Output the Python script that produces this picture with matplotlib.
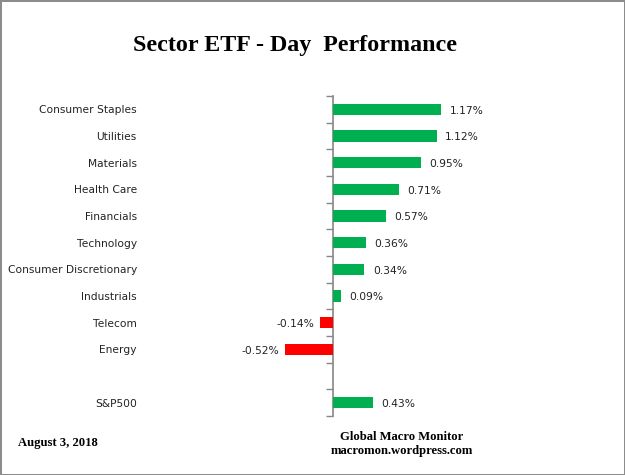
import numpy as np
import matplotlib
matplotlib.use("Agg")
import matplotlib.pyplot as plt

sectors = ["Consumer Staples", "Utilities", "Materials", "Health Care",
           "Financials", "Technology", "Consumer Discretionary", "Industrials",
           "Telecom", "Energy", "", "S&P500"]
changes = [1.17, 1.12, 0.95, 0.71, 0.57, 0.36, 0.34, 0.09, -0.14, -0.52, np.nan, 0.43]

title = "Sector ETF - Day  Performance"
date_text = "August 3, 2018"
source_text = "Global Macro Monitor\nmacromon.wordpress.com"

GREEN = "#00B050"
RED = "#FF0000"

fig = plt.figure(figsize=(6.25, 4.75), dpi=100)
fig.patch.set_facecolor("white")
fig.patch.set_edgecolor("#8c8c8c")
fig.patch.set_linewidth(2)

# axes placed so that zero sits where the reference's axis line is
left_px, right_px, top_px, bot_px = 141, 615, 96, 416
zero_px, px_per_unit = 333, 92.5
ax = fig.add_axes([left_px / 625, 1 - bot_px / 475,
                   (right_px - left_px) / 625, (bot_px - top_px) / 475])
xmin = -(zero_px - left_px) / px_per_unit
xmax = (right_px - zero_px) / px_per_unit
ax.set_xlim(xmin, xmax)
ax.set_ylim(len(sectors) - 0.5, -0.5)

y = np.arange(len(sectors))
vals = np.array(changes, dtype=float)
colors = [GREEN if v >= 0 else RED for v in np.nan_to_num(vals)]
ax.barh(y, np.nan_to_num(vals), height=0.42, color=colors, zorder=2)

lbl_font = dict(family="DejaVu Sans", size=7.7, color="#222222")
for yi, v in zip(y, vals):
    if np.isnan(v):
        continue
    if v >= 0:
        ax.annotate(f"{v:.2f}%", (v, yi), xytext=(6, -1), textcoords="offset points",
                    ha="left", va="center", **lbl_font)
    else:
        ax.annotate(f"{v:.2f}%", (v, yi), xytext=(-4, -1), textcoords="offset points",
                    ha="right", va="center", **lbl_font)

for s in ax.spines.values():
    s.set_visible(False)
ax.set_xticks([])
ax.set_yticks(y)
ax.set_yticklabels(sectors, **lbl_font)
ax.tick_params(axis="y", length=0, pad=3)

# zero axis line with boundary tick marks
frac = (0 - xmin) / (xmax - xmin)
sec = ax.secondary_yaxis(frac)
sec.set_yticks(np.arange(len(sectors) + 1) - 0.5)
sec.set_yticklabels([])
sec.tick_params(axis="y", direction="out", length=5, width=1, color="#868686")
sec.spines["left"].set_color("#868686")
sec.spines["left"].set_linewidth(1.2)

fig.text(0.472, 0.905, title, ha="center", va="center",
         family="Liberation Serif", weight="bold", size=17.3)
fig.text(0.029, 0.067, date_text, ha="left", va="center",
         family="Liberation Serif", weight="bold", size=9.1)
fig.text(0.643, 0.066, source_text, ha="center", va="center", linespacing=1.2,
         family="Liberation Serif", weight="bold", size=9.1)

fig.savefig("out.png", dpi=100, facecolor=fig.get_facecolor(), edgecolor=fig.get_edgecolor())
